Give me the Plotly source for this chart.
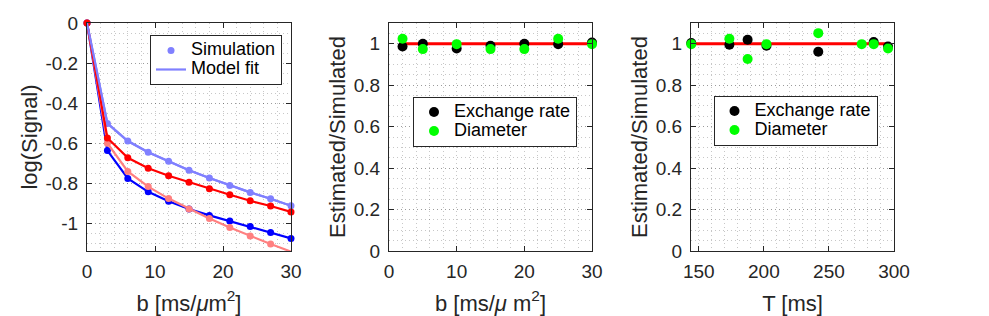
import plotly.graph_objects as go

# ---------------- data ----------------
b_sim = [0, 3, 6, 9, 12, 15, 18, 21, 24, 27, 30]
sig_lightblue = [0, -0.502, -0.590, -0.646, -0.691, -0.736, -0.775, -0.812, -0.847, -0.879, -0.914]
sig_red = [0, -0.575, -0.674, -0.726, -0.764, -0.796, -0.829, -0.859, -0.889, -0.915, -0.945]
sig_blue = [0, -0.638, -0.777, -0.844, -0.891, -0.930, -0.962, -0.990, -1.018, -1.048, -1.077]
sig_pink = [0, -0.601, -0.742, -0.818, -0.878, -0.930, -0.978, -1.023, -1.065, -1.105, -1.143]

b_est = [2, 5, 10, 15, 20, 25, 30]
exch_b = [0.987, 1.000, 0.977, 0.990, 1.000, 0.998, 1.006]
diam_b = [1.024, 0.974, 0.998, 0.974, 0.974, 1.024, 0.998]

T_est = [144.2, 173.5, 187.5, 202, 241.8, 284.4, 295.4]
exch_T = [1.003, 0.995, 1.019, 0.990, 0.961, 1.008, 0.987]
T_diam = [144.2, 173.5, 187.5, 202, 241.8, 275.2, 284.4, 295.4]
diam_T = [0.998, 1.024, 0.926, 0.998, 1.051, 0.998, 0.998, 0.977]

ref_ratio = 1.0

y1_ticks = [-1, -0.8, -0.6, -0.4, -0.2, 0]
y1_labels = ["-1", "-0.8", "-0.6", "-0.4", "-0.2", "0"]
y23_ticks = [0, 0.2, 0.4, 0.6, 0.8, 1]
y23_labels = ["0", "0.2", "0.4", "0.6", "0.8", "1"]

# ---------------- style ----------------
W, H = 989, 316
FONT = "Liberation Sans, Arial, Helvetica, sans-serif"
TXT = "#262626"
TICK_FS = 19
LAB_FS = 22
LEG_FS = 18
GRID = "rgba(0,0,0,0.22)"
DOT = "1px,3px"

C_LB = "#8080FF"
C_R = "#FF0000"
C_B = "#0000FF"
C_P = "#FF8080"
C_G = "#00FF00"


def lg(name):
    # legend label rendered at LEG_FS while keeping the legend rows compact
    return '<span style="font-size:%dpx">%s</span>' % (LEG_FS, name)


fig = go.Figure()

# Panel 1
series = [(sig_lightblue, C_LB, True), (sig_blue, C_B, False), (sig_pink, C_P, False), (sig_red, C_R, False)]
for ys, col, leg in series:
    fig.add_trace(go.Scatter(x=b_sim, y=ys, mode="lines", line=dict(color=col, width=2.2),
                             name=lg("Model fit"), showlegend=False, xaxis="x", yaxis="y",
                             cliponaxis=False, hoverinfo="skip"))
    fig.add_trace(go.Scatter(x=b_sim, y=ys, mode="markers", marker=dict(color=col, size=7),
                             name=lg("Simulation"), showlegend=leg, legend="legend",
                             xaxis="x", yaxis="y", cliponaxis=False, legendrank=1))
# legend line entry for model fit (light blue)
fig.add_trace(go.Scatter(x=b_sim, y=sig_lightblue, mode="lines", line=dict(color=C_LB, width=2.2),
                         name=lg("Model fit"), showlegend=True, legend="legend", xaxis="x", yaxis="y",
                         cliponaxis=False, legendrank=2))

# Panel 2
fig.add_trace(go.Scatter(x=[min(b_est), max(b_est)], y=[ref_ratio, ref_ratio], mode="lines",
                         line=dict(color=C_R, width=3), showlegend=False, xaxis="x2", yaxis="y2"))
fig.add_trace(go.Scatter(x=b_est, y=exch_b, mode="markers", marker=dict(color="black", size=10),
                         name=lg("Exchange rate"), legend="legend2", xaxis="x2", yaxis="y2", cliponaxis=False))
fig.add_trace(go.Scatter(x=b_est, y=diam_b, mode="markers", marker=dict(color=C_G, size=10),
                         name=lg("Diameter"), legend="legend2", xaxis="x2", yaxis="y2", cliponaxis=False))

# Panel 3
fig.add_trace(go.Scatter(x=[min(T_diam), max(T_diam)], y=[ref_ratio, ref_ratio], mode="lines",
                         line=dict(color=C_R, width=3), showlegend=False, xaxis="x3", yaxis="y3"))
fig.add_trace(go.Scatter(x=T_est, y=exch_T, mode="markers", marker=dict(color="black", size=10),
                         name=lg("Exchange rate"), legend="legend3", xaxis="x3", yaxis="y3", cliponaxis=False))
fig.add_trace(go.Scatter(x=T_diam, y=diam_T, mode="markers", marker=dict(color=C_G, size=10),
                         name=lg("Diameter"), legend="legend3", xaxis="x3", yaxis="y3", cliponaxis=False))


def px_x(p):
    return p / W


def px_y(p):
    return 1 - p / H


ydom = [px_y(251), px_y(23)]


def axis_common():
    return dict(showline=True, mirror="ticks", linecolor=TXT, linewidth=1,
                ticks="inside", ticklen=5, tickcolor=TXT, tickwidth=1,
                showgrid=True, gridcolor=GRID, griddash=DOT, gridwidth=1,
                zeroline=False, automargin=False,
                tickfont=dict(size=TICK_FS, color=TXT, family=FONT),
                title_font=dict(size=LAB_FS, color=TXT, family=FONT))


def xax(dom, rng, dtick, minor, title, anchor):
    d = axis_common()
    d.update(domain=dom, range=rng, dtick=dtick, tick0=0, anchor=anchor,
             minor=dict(dtick=minor, tick0=0, showgrid=True, gridcolor=GRID, griddash=DOT, gridwidth=1),
             title=dict(text=title, standoff=14), ticklabelstandoff=3)
    return d


def yax(dom, rng, tv, tt, title, anchor, standoff):
    d = axis_common()
    d.update(domain=dom, range=rng, tickvals=tv, ticktext=tt, anchor=anchor,
             minor=dict(dtick=0.05, tick0=0, showgrid=True, gridcolor=GRID, griddash=DOT, gridwidth=1),
             title=dict(text=title, standoff=standoff), ticklabelstandoff=4)
    return d


def leg(xc, yc):
    return dict(x=px_x(xc), y=px_y(yc), xanchor="center", yanchor="middle",
                bgcolor="white", bordercolor=TXT, borderwidth=1, itemwidth=30,
                font=dict(size=12, color="black", family=FONT), tracegroupgap=0)


fig.update_layout(
    width=W, height=H,
    margin=dict(l=0, r=0, t=0, b=0, autoexpand=False),
    paper_bgcolor="white", plot_bgcolor="white",
    font=dict(family=FONT, color=TXT, size=TICK_FS),
    xaxis=xax([px_x(87), px_x(291)], [0, 30], 10, 2, "b [ms/<i>μ</i>m<sup>2</sup>]", "y"),
    yaxis=yax(ydom, [-1.14, 0], y1_ticks, y1_labels, "log(Signal)", "x", 1),
    xaxis2=xax([px_x(389), px_x(592)], [0, 30], 10, 2, "b [ms/<i>μ</i> m<sup>2</sup>]", "y2"),
    yaxis2=yax(ydom, [0, 1.1], y23_ticks, y23_labels, "Estimated/Simulated", "x2", 2),
    xaxis3=xax([px_x(691), px_x(894)], [144, 300], 50, 10, "T [ms]", "y3"),
    yaxis3=yax(ydom, [0, 1.1], y23_ticks, y23_labels, "Estimated/Simulated", "x3", 2),
    legend=leg(216, 60),
    legend2=leg(495, 121.5),
    legend3=leg(795.5, 120.5),
    showlegend=True,
)

fig.write_html("out.html", config={"displayModeBar": False},
               post_script="document.body.style.margin='0';")
